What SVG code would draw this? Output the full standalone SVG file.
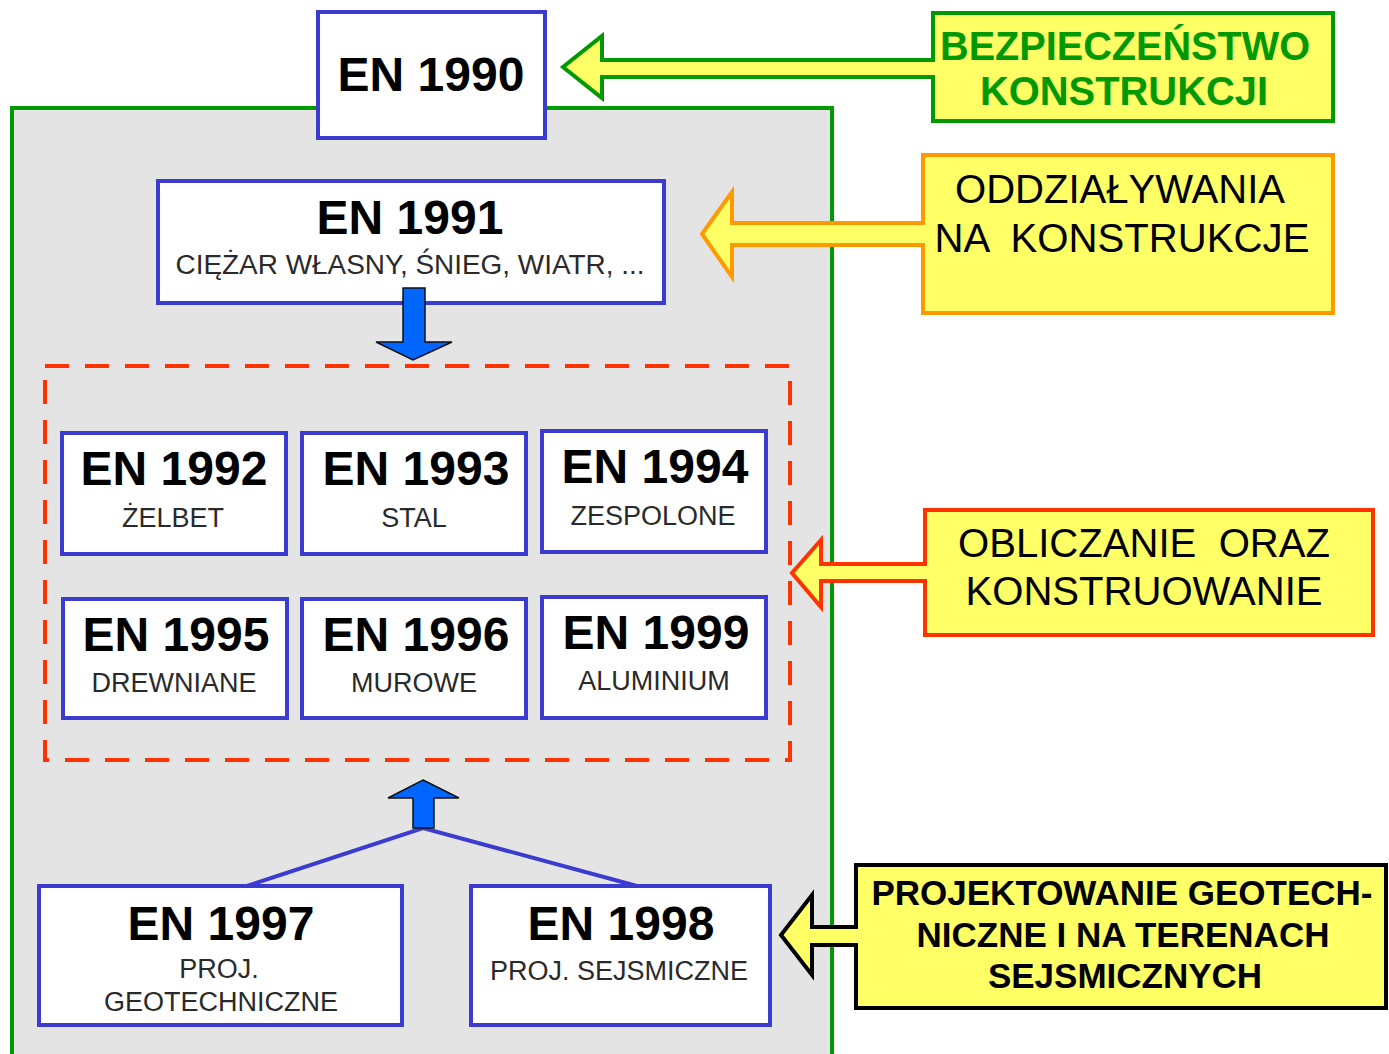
<svg xmlns="http://www.w3.org/2000/svg" width="1389" height="1054" viewBox="0 0 1389 1054">
<style>
.node{fill:#fff;stroke:#3b3bcf;stroke-width:4}
.t{font-family:"Liberation Sans",Arial,sans-serif;font-weight:bold;font-size:48px;fill:#000;text-anchor:middle}
.s{font-family:"Liberation Sans",Arial,sans-serif;font-size:27px;fill:#2a2a2a;text-anchor:middle}
.call{fill:#ffff66;stroke-width:4;stroke-linejoin:miter}
.ct{font-family:"Liberation Sans",Arial,sans-serif;font-size:40px;text-anchor:middle}
.cb{font-family:"Liberation Sans",Arial,sans-serif;font-size:35px;font-weight:bold;fill:#000;text-anchor:middle}
.blue{fill:#0066ff;stroke:#111;stroke-width:1.5;stroke-linejoin:miter}
</style>
<rect width="1389" height="1054" fill="#fff"/>
<g id="container">
<rect x="12" y="108" width="820" height="960" fill="#e4e4e4" stroke="#009900" stroke-width="4"/>
</g>
<g id="group-dashed">
<rect x="45" y="366" width="745" height="394" fill="none" stroke="#ff3300" stroke-width="4" stroke-dasharray="24,16"/>
</g>
<g id="en1990">
<rect class="node" x="318" y="12" width="227" height="126"/>
<text class="t" x="431" y="91">EN 1990</text>
</g>
<g id="en1991">
<rect class="node" x="158" y="181" width="506" height="122"/>
<text class="t" x="410" y="234">EN 1991</text>
<text class="s" x="410" y="274" textLength="469" lengthAdjust="spacingAndGlyphs">CIĘŻAR WŁASNY, ŚNIEG, WIATR, ...</text>
</g>
<g id="en1992">
<rect class="node" x="62" y="433" width="224" height="121"/>
<text class="t" x="174" y="485">EN 1992</text>
<text class="s" x="173" y="527">ŻELBET</text>
</g>
<g id="en1993">
<rect class="node" x="302" y="433" width="224" height="121"/>
<text class="t" x="416" y="485">EN 1993</text>
<text class="s" x="414" y="527">STAL</text>
</g>
<g id="en1994">
<rect class="node" x="542" y="431" width="224" height="121"/>
<text class="t" x="655" y="483">EN 1994</text>
<text class="s" x="653" y="525">ZESPOLONE</text>
</g>
<g id="en1995">
<rect class="node" x="63" y="599" width="224" height="119"/>
<text class="t" x="176" y="651">EN 1995</text>
<text class="s" x="174" y="692">DREWNIANE</text>
</g>
<g id="en1996">
<rect class="node" x="302" y="599" width="224" height="119"/>
<text class="t" x="416" y="651">EN 1996</text>
<text class="s" x="414" y="692">MUROWE</text>
</g>
<g id="en1999">
<rect class="node" x="542" y="597" width="224" height="121"/>
<text class="t" x="656" y="649">EN 1999</text>
<text class="s" x="654" y="690">ALUMINIUM</text>
</g>
<g id="en1997">
<rect class="node" x="39" y="886" width="363" height="139"/>
<text class="t" x="221" y="940">EN 1997</text>
<text class="s" x="219" y="978">PROJ.</text>
<text class="s" x="221" y="1011">GEOTECHNICZNE</text>
</g>
<g id="en1998">
<rect class="node" x="471" y="886" width="299" height="139"/>
<text class="t" x="621" y="940">EN 1998</text>
<text class="s" x="619" y="980">PROJ. SEJSMICZNE</text>
</g>
<g id="connectors">
<polygon class="blue" points="403,288 425,288 425,342 452,342 413,360 376,342 403,342"/>
<polyline points="247,886 423,828 637,886" fill="none" stroke="#3b3bcf" stroke-width="4"/>
<polygon class="blue" points="423,780 459,798 434,798 434,828 413,828 413,798 388,798"/>
</g>
<g id="note-bezpieczenstwo">
<path class="call" stroke="#009900" d="M933,13 H1333 V121 H933 V77 H602 V98 L563,67 L602,36 V60 H933 Z"/>
<text class="ct" x="1125" y="60" fill="#009900" font-weight="bold" textLength="370" lengthAdjust="spacingAndGlyphs">BEZPIECZEŃSTWO</text>
<text class="ct" x="1124" y="105" fill="#009900" font-weight="bold" textLength="288" lengthAdjust="spacingAndGlyphs">KONSTRUKCJI</text>
</g>
<g id="note-oddzialywania">
<path class="call" stroke="#ff9900" d="M923,155 H1333 V313 H923 V245 H732 V277 L702,234 L732,192 V223 H923 Z"/>
<text class="ct" x="1120" y="203" fill="#000" textLength="330" lengthAdjust="spacingAndGlyphs">ODDZIAŁYWANIA</text>
<text class="ct" x="1122" y="252" fill="#000" textLength="375" lengthAdjust="spacingAndGlyphs" xml:space="preserve">NA  KONSTRUKCJE</text>
</g>
<g id="note-obliczanie">
<path class="call" stroke="#ff3300" d="M925,510 H1373 V635 H925 V581 H821 V607 L792,573 L821,540 V564 H925 Z"/>
<text class="ct" x="1144" y="557" fill="#000" textLength="372" lengthAdjust="spacingAndGlyphs" xml:space="preserve">OBLICZANIE  ORAZ</text>
<text class="ct" x="1144" y="605" fill="#000" textLength="357" lengthAdjust="spacingAndGlyphs">KONSTRUOWANIE</text>
</g>
<g id="note-projektowanie">
<path class="call" stroke="#000" d="M856,865 H1386 V1008 H856 V945 H812 V975 L781,935 L812,895 V927 H856 Z"/>
<text class="cb" x="1122" y="905">PROJEKTOWANIE GEOTECH-</text>
<text class="cb" x="1123" y="947">NICZNE I NA TERENACH</text>
<text class="cb" x="1125" y="988">SEJSMICZNYCH</text>
</g>
</svg>
